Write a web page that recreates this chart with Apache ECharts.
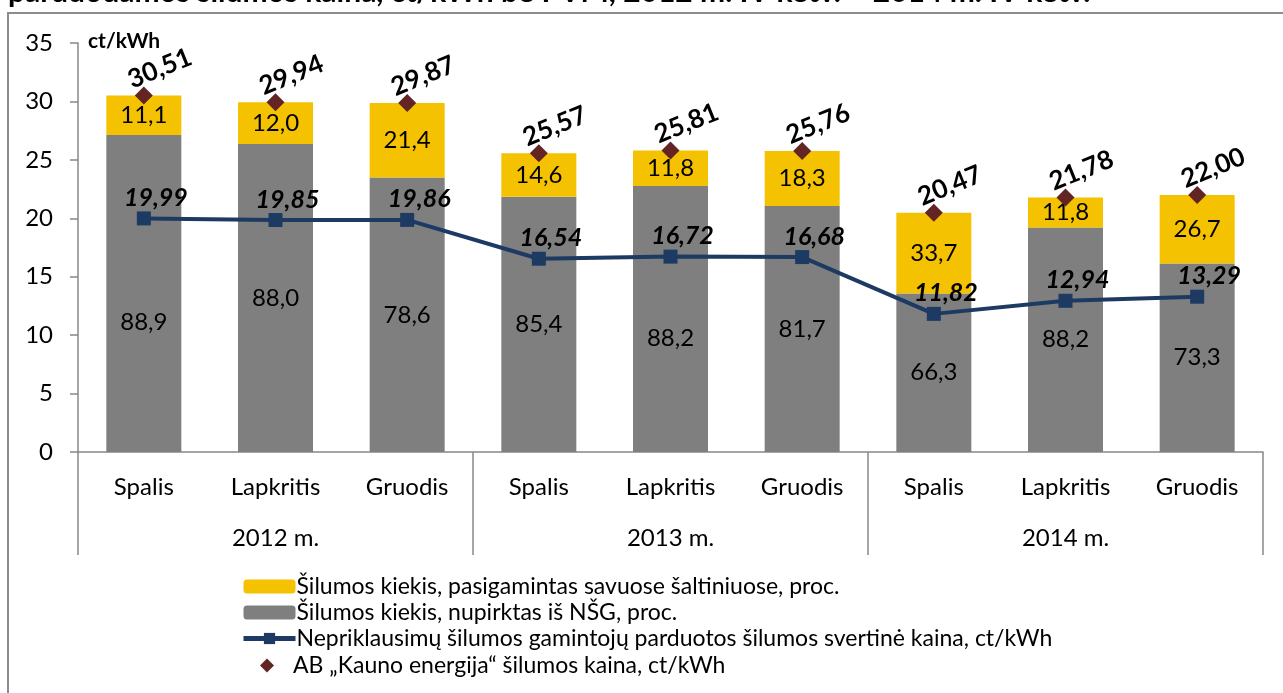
<!DOCTYPE html>
<html><head><meta charset="utf-8">
<script src="https://cdn.jsdelivr.net/npm/echarts@6/dist/echarts.min.js"></script>
<style>html,body{margin:0;padding:0;background:#fff}#c{width:1283px;height:693px}</style>
</head><body><div id="c"></div>
<script>
const months = ['Spalis','Lapkritis','Gruodis','Spalis','Lapkritis','Gruodis','Spalis','Lapkritis','Gruodis'];
const years = ['2012 m.','2013 m.','2014 m.'];
const yTicks = [0,5,10,15,20,25,30,35];
// bar segment heights (ct/kWh)
const grayHeights = [27.12,26.35,23.48,21.84,22.76,21.05,13.57,19.21,16.13];
const yellowHeights = [3.39,3.59,6.39,3.73,3.05,4.71,6.90,2.57,5.87];
// percentage labels
const grayPct = ['88,9','88,0','78,6','85,4','88,2','81,7','66,3','88,2','73,3'];
const yellowPct = ['11,1','12,0','21,4','14,6','11,8','18,3','33,7','11,8','26,7'];
// line: independent producers price
const nsgPrice = [19.99,19.85,19.86,16.54,16.72,16.68,11.82,12.94,13.29];
// diamonds: AB Kauno energija price
const kePrice = [30.51,29.94,29.87,25.57,25.81,25.76,20.47,21.78,22.00];

const names = [
  'Šilumos kiekis, pasigamintas savuose šaltiniuose, proc.',
  'Šilumos kiekis, nupirktas iš NŠG, proc.',
  'Nepriklausimų šilumos gamintojų parduotos šilumos svertinė kaina, ct/kWh',
  'AB „Kauno energija“ šilumos kaina, ct/kWh'
];
const grayLabelShift = [29,0,0,0,19,0,0,0,0];
const FONT = 'Lato';
const fmt2 = v => v.toFixed(2).replace('.', ',');

const chart = echarts.init(document.getElementById('c'), null, {renderer:'canvas'});
chart.setOption({
  animation:false,
  textStyle:{fontFamily:FONT},
  graphic:[
    {type:'rect', shape:{x:8,y:13,width:1300,height:700}, style:{fill:'none', stroke:'#8c8c8c', lineWidth:2}, z:-1},
    {type:'text', left:8, top:-23, style:{text:'parduodamos šilumos kaina, ct/kWh be PVM, 2012 m. IV ketv. – 2014 m. IV ketv.', font:'bold 30px Lato', fill:'#000'}},
    {type:'text', left:88, top:31, style:{text:'ct/kWh', font:'bold 21px Lato', fill:'#000'}}
  ],
  legend:[{
    data:[names[0],names[1],names[2]],
    orient:'vertical', left:236, top:570, itemGap:3, itemWidth:52, itemHeight:14,
    lineStyle:{width:5},
    textStyle:{fontSize:23, color:'#000', fontFamily:FONT, padding:[0,0,0,-4]},
    selectedMode:false
  },{
    data:[names[3]],
    orient:'vertical', left:255, top:649, itemWidth:14, itemHeight:14,
    textStyle:{fontSize:23, color:'#000', fontFamily:FONT, padding:[0,0,0,14]},
    selectedMode:false
  }],
  grid:{left:78, right:20, top:43, bottom:241},
  xAxis:[
    {type:'category', data:months, position:'bottom',
     axisLine:{lineStyle:{color:'#888', width:1.5}}, axisTick:{show:false},
     axisLabel:{fontSize:24, color:'#000', margin:23, interval:0}},
    {type:'category', data:years, position:'bottom',
     axisLine:{show:false}, axisTick:{show:true, length:103, lineStyle:{color:'#888', width:1.5}},
     axisLabel:{fontSize:24, color:'#000', margin:74, interval:0}}
  ],
  yAxis:{type:'value', min:yTicks[0], max:yTicks[yTicks.length-1], interval:5,
    axisLine:{show:true, lineStyle:{color:'#888', width:1.5}},
    axisTick:{show:true, length:8, lineStyle:{color:'#888', width:1.5}},
    splitLine:{show:false},
    axisLabel:{fontSize:24, color:'#000', margin:25}},
  series:[
    {name:names[1], type:'bar', stack:'s', barWidth:75, itemStyle:{color:'#7f7f7f'},
     data:grayHeights.map((v,i)=>({value:v, label:{offset:[0,grayLabelShift[i]]}})),
     label:{show:true, position:'inside', fontSize:24, color:'#000', formatter:p=>grayPct[p.dataIndex]}},
    {name:names[0], type:'bar', stack:'s', barWidth:75, itemStyle:{color:'#f4c200'},
     data:yellowHeights,
     label:{show:true, position:'inside', fontSize:24, color:'#000', formatter:p=>yellowPct[p.dataIndex]}},
    {name:names[2], type:'line', data:nsgPrice, symbol:'rect', symbolSize:14,
     lineStyle:{color:'#1d3a63', width:4}, itemStyle:{color:'#1d3a63'}, z:5,
     label:{show:true, position:'top', distance:1, offset:[12,0], fontSize:25, fontWeight:'bold', fontStyle:'italic', color:'#000', formatter:p=>fmt2(p.value)}},
    {name:names[3], type:'scatter', data:kePrice, symbol:'diamond', symbolSize:18,
     itemStyle:{color:'#632523', opacity:1}, z:6},
    {type:'custom', z:7, data:kePrice.map((v,i)=>[i,v]),
     renderItem:(params, api)=>{
       const p = api.coord([api.value(0), api.value(1)]);
       return {type:'text', x:p[0]+16, y:p[1]-27, rotation:22*Math.PI/180,
         style:{text:fmt2(api.value(1)), font:'bold 26px Lato', fill:'#000', align:'center', verticalAlign:'middle'}};
     }}
  ]
});
</script></body></html>
